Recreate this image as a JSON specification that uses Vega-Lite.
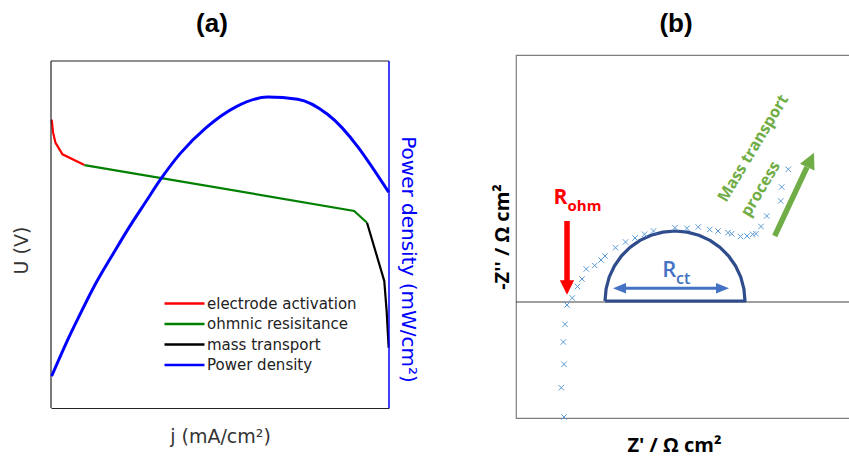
{
  "$schema": "https://vega.github.io/schema/vega-lite/v6.json",
  "padding": {"left": 12, "top": 10, "right": 0, "bottom": 0},
  "background": "white",
  "spacing": 74,
  "config": {"view": {"stroke": null}, "axis": {"grid": false, "labels": false, "ticks": false, "domain": false}},
  "datasets": {
    "voltage": [
      {"series": "electrode activation", "order": 1, "j": 0.2, "U": 83.1},
      {"series": "electrode activation", "order": 2, "j": 0.6, "U": 79.5},
      {"series": "electrode activation", "order": 3, "j": 1.3, "U": 76.5},
      {"series": "electrode activation", "order": 4, "j": 3.4, "U": 73.1},
      {"series": "electrode activation", "order": 5, "j": 9.9, "U": 70.0},
      {"series": "ohmnic resisitance", "order": 1, "j": 9.9, "U": 70.0},
      {"series": "ohmnic resisitance", "order": 2, "j": 89.7, "U": 56.8},
      {"series": "ohmnic resisitance", "order": 3, "j": 93.5, "U": 53.4},
      {"series": "mass transport", "order": 1, "j": 93.5, "U": 53.4},
      {"series": "mass transport", "order": 2, "j": 98.6, "U": 36.6},
      {"series": "mass transport", "order": 3, "j": 99.3, "U": 28.0},
      {"series": "mass transport", "order": 4, "j": 99.9, "U": 17.4}
    ],
    "power": [
      {"series": "Power density", "order": 1, "j": 0.2, "P": 9.2},
      {"series": "Power density", "order": 2, "j": 4.4, "P": 18.5},
      {"series": "Power density", "order": 3, "j": 8.4, "P": 26.6},
      {"series": "Power density", "order": 4, "j": 13.3, "P": 36.0},
      {"series": "Power density", "order": 5, "j": 18.3, "P": 44.3},
      {"series": "Power density", "order": 6, "j": 23.2, "P": 52.2},
      {"series": "Power density", "order": 7, "j": 28.1, "P": 59.5},
      {"series": "Power density", "order": 8, "j": 32.5, "P": 66.0},
      {"series": "Power density", "order": 9, "j": 38.2, "P": 73.3},
      {"series": "Power density", "order": 10, "j": 45.9, "P": 80.8},
      {"series": "Power density", "order": 11, "j": 54.7, "P": 86.8},
      {"series": "Power density", "order": 12, "j": 64.1, "P": 89.6},
      {"series": "Power density", "order": 13, "j": 73.0, "P": 89.0},
      {"series": "Power density", "order": 14, "j": 81.9, "P": 84.6},
      {"series": "Power density", "order": 15, "j": 99.9, "P": 62.2}
    ],
    "nyquist": [
      {"zr": 48, "zi": -115}, {"zr": 45.3, "zi": -85.7}, {"zr": 48, "zi": -62.3}, {"zr": 47.3, "zi": -40},
      {"zr": 49, "zi": -22.3}, {"zr": 51, "zi": -3}, {"zr": 56.3, "zi": 4}, {"zr": 61.5, "zi": 15.5},
      {"zr": 66, "zi": 23}, {"zr": 70.3, "zi": 33}, {"zr": 78.7, "zi": 36.5}, {"zr": 85, "zi": 42},
      {"zr": 89, "zi": 46}, {"zr": 99.5, "zi": 54.3}, {"zr": 109.5, "zi": 60}, {"zr": 119, "zi": 64},
      {"zr": 128.5, "zi": 67.7}, {"zr": 137.5, "zi": 71}, {"zr": 159, "zi": 74.3}, {"zr": 171, "zi": 73.7},
      {"zr": 182.3, "zi": 75}, {"zr": 193.7, "zi": 72.5}, {"zr": 202, "zi": 71}, {"zr": 212, "zi": 69.3},
      {"zr": 215.7, "zi": 68.3}, {"zr": 224.5, "zi": 65.5}, {"zr": 231, "zi": 66}, {"zr": 236.7, "zi": 67.7},
      {"zr": 240, "zi": 68.3}, {"zr": 245, "zi": 75.5}, {"zr": 250.7, "zi": 86}, {"zr": 264.7, "zi": 101},
      {"zr": 265.7, "zi": 115}, {"zr": 272.3, "zi": 132.7}
    ],
    "arc": [
      {"t": 1, "zr": 89, "zi": 1}, {"t": 2, "zr": 90.1, "zi": 13.2}, {"t": 3, "zr": 93.2, "zi": 24.9},
      {"t": 4, "zr": 98.4, "zi": 36}, {"t": 5, "zr": 105.4, "zi": 46}, {"t": 6, "zr": 114, "zi": 54.6},
      {"t": 7, "zr": 124, "zi": 61.6}, {"t": 8, "zr": 135.1, "zi": 66.8}, {"t": 9, "zr": 146.8, "zi": 69.9},
      {"t": 10, "zr": 159, "zi": 71}, {"t": 11, "zr": 171.2, "zi": 69.9}, {"t": 12, "zr": 182.9, "zi": 66.8},
      {"t": 13, "zr": 194, "zi": 61.6}, {"t": 14, "zr": 204, "zi": 54.6}, {"t": 15, "zr": 212.6, "zi": 46},
      {"t": 16, "zr": 219.6, "zi": 36}, {"t": 17, "zr": 224.8, "zi": 24.9}, {"t": 18, "zr": 227.9, "zi": 13.2},
      {"t": 19, "zr": 229, "zi": 1}, {"t": 20, "zr": 89, "zi": 1}
    ]
  },
  "hconcat": [
    {
      "width": 338,
      "height": 353,
      "title": {"text": "(a)", "font": "Liberation Sans", "fontSize": 26, "fontWeight": "bold", "color": "#000000", "offset": 18, "dx": -8, "anchor": "middle"},
      "layer": [
        {
          "layer": [
            {
              "data": {"name": "voltage"},
              "mark": {"type": "line", "strokeWidth": 2.2},
              "encoding": {
                "x": {"field": "j", "type": "quantitative", "scale": {"domain": [0, 100], "nice": false, "zero": false},
                  "axis": {"title": "j (mA/cm²)", "labels": false, "ticks": false, "domain": true, "domainColor": "#222222", "domainWidth": 1.2,
                    "titleFont": "DejaVu Sans", "titleFontSize": 19, "titleFontWeight": "normal", "titleColor": "#333333", "titlePadding": 19}},
                "y": {"field": "U", "type": "quantitative", "scale": {"domain": [0, 101.73], "nice": false, "zero": false},
                  "axis": {"title": "U (V)", "labels": false, "ticks": false, "domain": false,
                    "titleFont": "DejaVu Sans", "titleFontSize": 19, "titleFontWeight": "normal", "titleColor": "#333333", "titlePadding": 20, "titleY": 195}},
                "color": {"field": "series", "type": "nominal",
                  "scale": {"domain": ["electrode activation", "ohmnic resisitance", "mass transport", "Power density"], "range": ["#ff0000", "#008000", "#000000", "#0000ff"]},
                  "legend": {"orient": "none", "legendX": 111, "legendY": 241, "title": null, "symbolType": "M-1,0L7,0", "symbolSize": 100, "symbolStrokeWidth": 2.5,
                    "labelFont": "DejaVu Sans", "labelFontSize": 15, "labelColor": "#222222", "labelOffset": 30, "rowPadding": 4.5, "padding": 0, "labelLimit": 300}},
                "order": {"field": "order", "type": "quantitative"}
              }
            },
            {
              "data": {"values": [{}]},
              "mark": {"type": "rule", "color": "#222222", "strokeWidth": 1.2},
              "encoding": {"x": {"datum": 0}, "x2": {"datum": 100}, "y": {"datum": 100}}
            },
            {
              "data": {"values": [{}]},
              "mark": {"type": "rule", "color": "#222222", "strokeWidth": 1.2},
              "encoding": {"x": {"datum": 0}, "y": {"datum": 0}, "y2": {"datum": 100}}
            },
            {
              "data": {"values": [{}]},
              "mark": {"type": "rule", "color": "#0000ff", "strokeWidth": 1.5},
              "encoding": {"x": {"datum": 100}, "y": {"datum": 0}, "y2": {"datum": 100}}
            }
          ]
        },
        {
          "data": {"name": "power"},
          "mark": {"type": "line", "strokeWidth": 3, "interpolate": "monotone"},
          "encoding": {
            "x": {"field": "j", "type": "quantitative", "scale": {"domain": [0, 100], "nice": false, "zero": false},
              "axis": {"title": "j (mA/cm²)", "labels": false, "ticks": false, "domain": true, "domainColor": "#222222", "domainWidth": 1.2,
                "titleFont": "DejaVu Sans", "titleFontSize": 19, "titleFontWeight": "normal", "titleColor": "#333333", "titlePadding": 19}},
            "y": {"field": "P", "type": "quantitative", "scale": {"domain": [0, 101.73], "nice": false, "zero": false},
              "axis": {"orient": "right", "title": "Power density (mW/cm²)", "labels": false, "ticks": false, "domain": false,
                "titleFont": "DejaVu Sans", "titleFontSize": 20, "titleFontWeight": "normal", "titleColor": "#0000ff", "titlePadding": 8, "titleY": 204}},
            "color": {"field": "series", "type": "nominal",
              "scale": {"domain": ["electrode activation", "ohmnic resisitance", "mass transport", "Power density"], "range": ["#ff0000", "#008000", "#000000", "#0000ff"]},
              "legend": {"orient": "none", "legendX": 111, "legendY": 241, "title": null, "symbolType": "M-1,0L7,0", "symbolSize": 100, "symbolStrokeWidth": 2.5,
                "labelFont": "DejaVu Sans", "labelFontSize": 15, "labelColor": "#222222", "labelOffset": 30, "rowPadding": 4.5, "padding": 0, "labelLimit": 300}},
            "order": {"field": "order", "type": "quantitative"}
          }
        }
      ],
      "resolve": {"scale": {"y": "independent"}}
    },
    {
      "width": 340,
      "height": 363,
      "title": {"text": "(b)", "font": "Liberation Sans", "fontSize": 26, "fontWeight": "bold", "color": "#000000", "offset": 18, "dx": -10, "anchor": "middle"},
      "view": {"stroke": "#7f7f7f", "strokeWidth": 1.2},
      "encoding": {
        "x": {"field": "zr", "type": "quantitative", "scale": {"domain": [0, 340], "nice": false, "zero": false},
          "axis": {"title": "Z' / Ω cm²", "labels": false, "ticks": false, "domain": false, "titleFont": "Open Sans", "titleFontSize": 20, "titleFontWeight": "bold",
            "titleColor": "#000000", "titlePadding": 17, "titleX": 158}},
        "y": {"field": "zi", "type": "quantitative", "scale": {"domain": [-116, 247], "nice": false, "zero": false},
          "axis": {"title": "-Z'' / Ω cm²", "labels": false, "ticks": false, "domain": false, "titleFont": "Open Sans", "titleFontSize": 20, "titleFontWeight": "bold",
            "titleColor": "#000000", "titlePadding": 4}}
      },
      "layer": [
        {
          "data": {"values": [{"zr": 0, "zr2": 340, "zi": 0}]},
          "mark": {"type": "rule", "color": "#404040", "strokeWidth": 1},
          "encoding": {"x2": {"field": "zr2"}}
        },
        {
          "data": {"name": "arc"},
          "mark": {"type": "line", "color": "#2f4c8c", "strokeWidth": 3.2, "strokeJoin": "round"},
          "encoding": {"order": {"field": "t", "type": "quantitative"}}
        },
        {
          "data": {"name": "nyquist"},
          "mark": {"type": "point", "shape": "M-1,-1L1,1M-1,1L1,-1", "filled": false, "size": 30, "strokeWidth": 1, "color": "#5b9bd5", "opacity": 1}
        },
        {
          "data": {"values": [{"zr": 51, "zi": 81, "zi2": 21}]},
          "mark": {"type": "rule", "color": "#ff0000", "strokeWidth": 5.5},
          "encoding": {"y2": {"field": "zi2"}}
        },
        {
          "data": {"values": [{"zr": 51, "zi": 14.5}]},
          "mark": {"type": "point", "shape": "M-1,-1L1,-1L0,1Z", "filled": true, "size": 204, "color": "#ff0000", "opacity": 1, "strokeWidth": 0}
        },
        {
          "data": {"values": [{"zr": 103, "zr2": 207, "zi": 13.7}]},
          "mark": {"type": "rule", "color": "#4472c4", "strokeWidth": 3},
          "encoding": {"x2": {"field": "zr2"}}
        },
        {
          "data": {"values": [{"zr": 103.5, "zi": 13.7}]},
          "mark": {"type": "point", "shape": "M-1,0L1,-0.8L1,0.8Z", "filled": true, "size": 169, "color": "#4472c4", "opacity": 1, "strokeWidth": 0}
        },
        {
          "data": {"values": [{"zr": 206.5, "zi": 13.7}]},
          "mark": {"type": "point", "shape": "M1,0L-1,-0.8L-1,0.8Z", "filled": true, "size": 169, "color": "#4472c4", "opacity": 1, "strokeWidth": 0}
        },
        {
          "data": {"values": [{"zr": 258.7, "zi": 66, "zr2": 291, "zi2": 134.8}]},
          "mark": {"type": "rule", "color": "#70ad47", "strokeWidth": 5.5},
          "encoding": {"x2": {"field": "zr2"}, "y2": {"field": "zi2"}}
        },
        {
          "data": {"values": [{"zr": 294.6, "zi": 142.1}]},
          "mark": {"type": "point", "shape": "M0,-1L1,1L-1,1Z", "filled": true, "size": 256, "angle": 25, "color": "#70ad47", "opacity": 1, "strokeWidth": 0}
        },
        {
          "data": {"values": [{"zr": 37.5, "zi": 98, "label": "R"}]},
          "mark": {"type": "text", "font": "Open Sans", "fontWeight": "bold", "fontSize": 21, "color": "#ff0000", "align": "left", "baseline": "alphabetic"},
          "encoding": {"text": {"field": "label"}}
        },
        {
          "data": {"values": [{"zr": 51.5, "zi": 91, "label": "ohm"}]},
          "mark": {"type": "text", "font": "Open Sans", "fontWeight": "bold", "fontSize": 15, "color": "#ff0000", "align": "left", "baseline": "alphabetic"},
          "encoding": {"text": {"field": "label"}}
        },
        {
          "data": {"values": [{"zr": 146.3, "zi": 25, "label": "R"}]},
          "mark": {"type": "text", "font": "Open Sans", "fontWeight": 600, "fontSize": 22, "color": "#4472c4", "align": "left", "baseline": "alphabetic"},
          "encoding": {"text": {"field": "label"}}
        },
        {
          "data": {"values": [{"zr": 160, "zi": 18.3, "label": "ct"}]},
          "mark": {"type": "text", "font": "Open Sans", "fontWeight": 600, "fontSize": 16, "color": "#4472c4", "align": "left", "baseline": "alphabetic"},
          "encoding": {"text": {"field": "label"}}
        },
        {
          "data": {"values": [{"zr": 237.2, "zi": 153.7, "label": "Mass transport"}, {"zr": 244.7, "zi": 113, "label": "process"}]},
          "mark": {"type": "text", "font": "Open Sans", "fontWeight": "bold", "fontSize": 16, "color": "#70ad47", "align": "center", "baseline": "middle", "angle": 301},
          "encoding": {"text": {"field": "label"}}
        }
      ]
    }
  ]
}
